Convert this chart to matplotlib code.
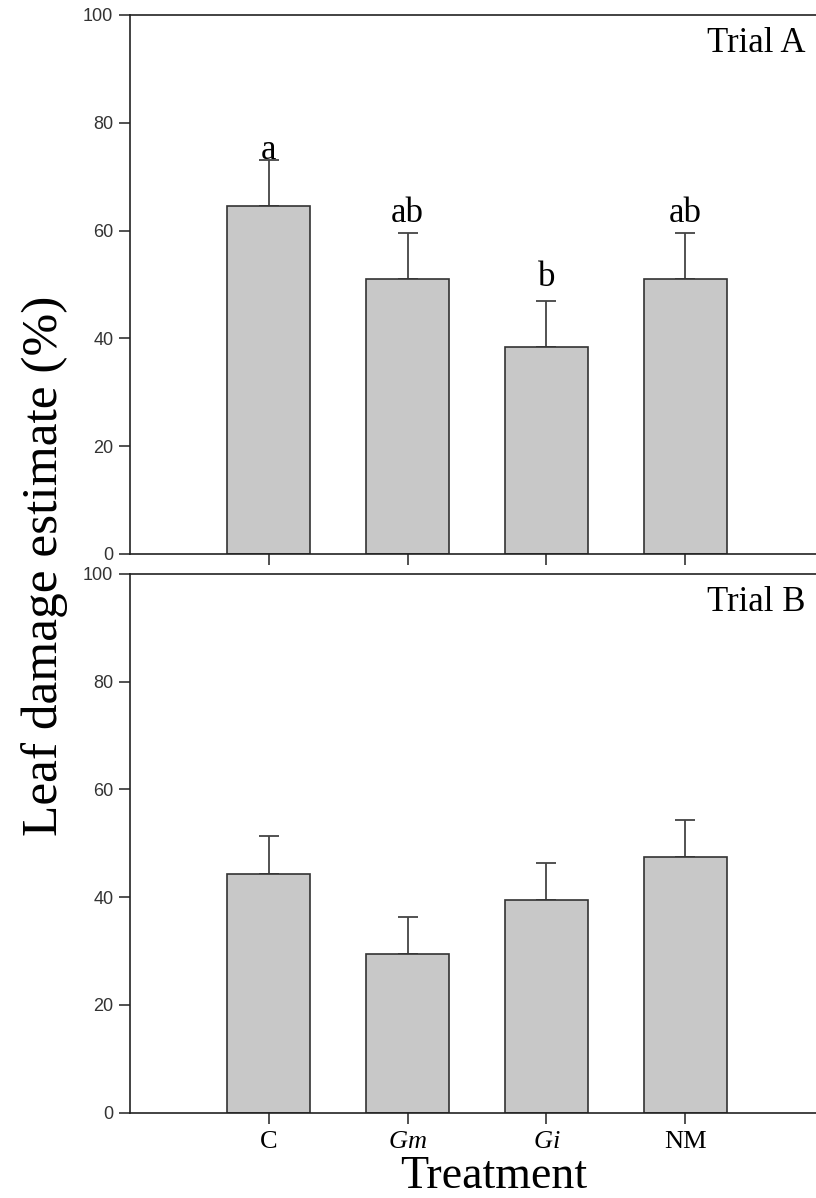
import matplotlib.pyplot as plt

# Leaf damage (%) per treatment, mean and upper SE, two trials
treatments = ["C", "Gm", "Gi", "NM"]
tick_labels = ["C", "$\\it{Gm}$", "$\\it{Gi}$", "NM"]

trial_a_mean = [64.6, 51.0, 38.4, 51.0]
trial_a_se = [8.4, 8.5, 8.5, 8.5]
trial_a_letters = ["a", "ab", "b", "ab"]

trial_b_mean = [44.4, 29.4, 39.4, 47.5]
trial_b_se = [6.9, 6.9, 6.9, 6.8]

plt.rcParams['mathtext.fontset'] = 'custom'
plt.rcParams['mathtext.it'] = 'Liberation Serif:italic'
plt.rcParams['mathtext.rm'] = 'Liberation Serif'

fig = plt.figure(figsize=(8.16, 11.98), dpi=100)
ax1 = fig.add_axes([0.1593, 0.5376, 0.8505, 0.4499])
ax2 = fig.add_axes([0.1593, 0.0712, 0.8505, 0.4497])

x = list(range(len(treatments)))


def draw_panel(ax, means, ses, title):
    ax.bar(x, means, width=0.6, color="#c8c8c8", edgecolor="#333333", linewidth=1.2, zorder=2)
    ax.errorbar(x, means, yerr=[[0] * len(ses), ses], fmt="none", ecolor="#444444",
                elinewidth=1.3, capsize=7, capthick=1.3, zorder=1)
    ax.set_xlim(-1, 4)
    ax.set_ylim(0, 100)
    ax.set_yticks(range(0, 101, 20))
    ax.set_xticks(x)
    ax.spines['right'].set_visible(False)
    for s in ['left', 'bottom', 'top']:
        ax.spines[s].set_linewidth(1.2)
        ax.spines[s].set_color("#222222")
    ax.tick_params(axis='both', direction='out', length=8, width=1.2, color="#333333")
    ax.tick_params(axis='y', labelsize=13, labelcolor="#333333", pad=4)
    for lab in ax.get_yticklabels():
        lab.set_family("Liberation Sans")
    ax.text(3.87, 93.2, title, family="Liberation Serif", fontsize=25, ha="right", va="baseline")


draw_panel(ax1, trial_a_mean, trial_a_se, "Trial A")
draw_panel(ax2, trial_b_mean, trial_b_se, "Trial B")

ax1.set_xticklabels([])
ax2.set_xticklabels(tick_labels, family="Liberation Serif", fontsize=19)
ax2.tick_params(axis='x', pad=5)

# significance letters above the error bars
letter_gap = {"a": 0.2, "ab": 2.1, "b": 2.8}
for xi, m, s, letter in zip(x, trial_a_mean, trial_a_se, trial_a_letters):
    ax1.text(xi, m + s + letter_gap[letter], letter, family="Liberation Serif",
             fontsize=25, ha="center", va="baseline")

fig.text(45 / 816, 0.528, "Leaf damage estimate (%)", family="Liberation Serif",
         fontsize=37, rotation=90, ha="center", va="center")
fig.text(494 / 816, 0.0085, "Treatment", family="Liberation Serif",
         fontsize=33, ha="center", va="baseline")

fig.savefig("out.png", dpi=100)
